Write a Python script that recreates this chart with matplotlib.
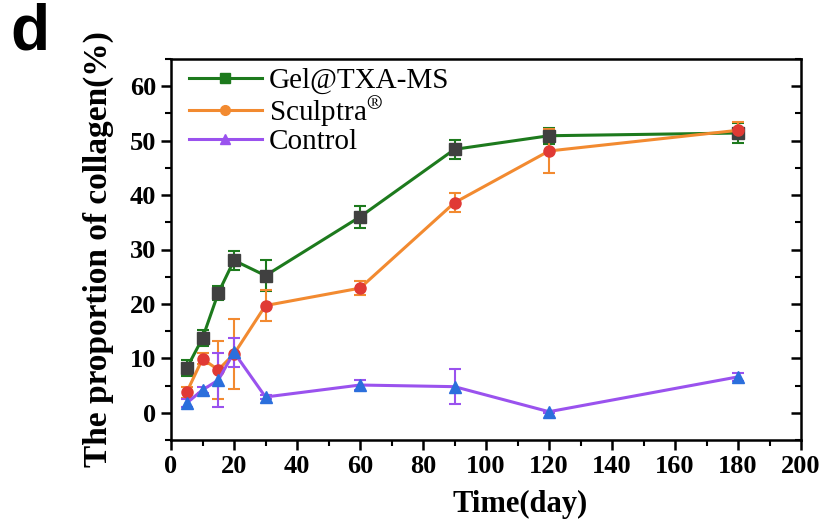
import numpy as np
import matplotlib.pyplot as plt
from matplotlib.lines import Line2D
from matplotlib.ticker import MultipleLocator

# time points (days)
days = [5, 10, 15, 20, 30, 60, 90, 120, 180]

# collagen proportion (%) and error
gel = [8.2, 13.7, 22.0, 28.0, 25.2, 36.0, 48.4, 50.9, 51.4]
gel_err = [1.5, 1.5, 1.3, 1.8, 2.8, 2.0, 1.8, 1.5, 1.8]

sculptra = [3.8, 9.9, 7.9, 10.8, 19.7, 22.9, 38.6, 48.1, 51.9]
sculptra_err = [1.0, 1.0, 5.3, 6.4, 2.8, 1.3, 1.8, 4.0, 1.5]

control = [1.8, 4.2, 6.0, 11.1, 2.9, 5.1, 4.8, 0.2, 6.6]
control_err = [0.8, 0.5, 5.0, 2.6, 0.4, 1.0, 3.2, 0.2, 0.7]

series = [
    ("Gel@TXA-MS", gel, gel_err, "#1d7a1d", "#404040", "s"),
    ("Sculptra$^{\\circledR}$", sculptra, sculptra_err, "#f28a30", "#e03a35", "o"),
    ("Control", control, control_err, "#9a52ee", "#2b6fdc", "^"),
]

plt.rcParams['font.family'] = ['Liberation Serif', 'DejaVu Serif']
plt.rcParams['mathtext.fontset'] = 'stix'

fig = plt.figure(figsize=(8.32, 5.30), dpi=100)
ax = fig.add_axes([171 / 832, 90 / 530, 630 / 832, 381 / 530])

handles = []
for name, vals, err, lc, mc, mk in series:
    ax.errorbar(days, vals, yerr=err, color=lc, lw=2.2, capsize=4, capthick=1.5,
                elinewidth=1.5, marker=mk, markersize=8, markerfacecolor=mc,
                markeredgecolor=mc, zorder=3)
    handles.append(Line2D([0], [0], color=lc, lw=2.2, marker=mk, markersize=7,
                          markerfacecolor=lc, markeredgecolor=lc, label=name))

ax.set_xlim(0, 200)
ax.set_ylim(-5, 65)
ax.xaxis.set_major_locator(MultipleLocator(20))
ax.xaxis.set_minor_locator(MultipleLocator(10))
ax.yaxis.set_major_locator(MultipleLocator(10))
ax.yaxis.set_minor_locator(MultipleLocator(5))
ax.set_yticks([0, 10, 20, 30, 40, 50, 60])

ax.tick_params(which='major', direction='out', length=7, width=1.8, labelsize=19)
ax.tick_params(which='minor', direction='out', length=4, width=1.5)
ax.tick_params(axis='y', which='both', right=True)
for t in ax.yaxis.get_major_ticks() + ax.yaxis.get_minor_ticks():
    t.tick2line.set_marker(0)  # right side ticks point inward
for lab in ax.get_xticklabels() + ax.get_yticklabels():
    lab.set_fontweight('bold')
for sp in ax.spines.values():
    sp.set_linewidth(1.8)

ax.set_xlabel("Time(day)", fontsize=22, fontweight='bold')
ax.xaxis.set_label_coords(0.554, -0.13)
ax.set_ylabel("The proportion of collagen(%)", fontsize=24, fontweight='bold')
ax.yaxis.set_label_coords(-0.09, 0.5)

ax.legend(handles=handles, loc='upper left', frameon=False, fontsize=21,
          handlelength=2.5, handletextpad=0.25, labelspacing=0.0,
          borderaxespad=0.0, bbox_to_anchor=(0.01, 1.008))

fig.text(10 / 832, 1 - 50 / 530, "d", fontsize=46, fontweight='bold',
         family='Liberation Sans')

fig.savefig("out.png", dpi=100)
